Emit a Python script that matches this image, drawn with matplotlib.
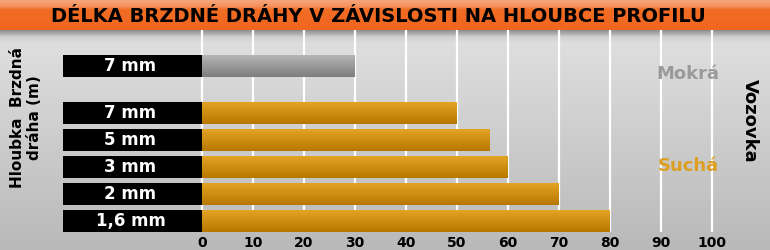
import numpy as np
import matplotlib.pyplot as plt
from matplotlib.colors import LinearSegmentedColormap

# ---------------------------------------------------------------------------
# data
# ---------------------------------------------------------------------------
title = "DÉLKA BRZDNÉ DRÁHY V ZÁVISLOSTI NA HLOUBCE PROFILU"
wet_labels = ["7 mm"]
wet_values = [30]
dry_labels = ["7 mm", "5 mm", "3 mm", "2 mm", "1,6 mm"]
dry_values = [50, 56.5, 60, 70, 80]
x_ticks = [0, 10, 20, 30, 40, 50, 60, 70, 80, 90, 100]

# ---------------------------------------------------------------------------
# layout / style
# ---------------------------------------------------------------------------
W, H = 770, 250
PX = 5.097                       # pixels per unit on the x axis
X0 = 202                         # pixel position of x = 0
BOX = (X0 - 63) / PX             # width of the black label boxes (data units)
BAR_H = 0.80
WET_POS = -1.74

ORANGE_TOP, ORANGE_BOT = "#e3a323", "#b77800"
GREY_TOP, GREY_BOT = "#b5b5b5", "#7e7e7e"
FONT = "DejaVu Sans"


def gradient(ax, patch, top, bottom, z=3):
    x0, y0 = patch.get_x(), patch.get_y()
    w, h = patch.get_width(), patch.get_height()
    cmap = LinearSegmentedColormap.from_list("g", [top, bottom])
    grad = np.linspace(0, 1, 64).reshape(-1, 1)
    ax.imshow(grad, cmap=cmap, aspect="auto", interpolation="bilinear",
              extent=(x0, x0 + w, y0 + h, y0), zorder=z)


fig = plt.figure(figsize=(W / 100, H / 100), dpi=100)

# background + title bar (pixel coordinates)
bg = fig.add_axes([0, 0, 1, 1])
bg.set_xlim(0, W)
bg.set_ylim(H, 0)
bg.axis("off")
bg_cmap = LinearSegmentedColormap.from_list(
    "bg", [(0, "#8f8f8f"), (0.03, "#d0d0d0"), (0.06, "#dedede"), (1, "#b9b9b9")])
bg.imshow(np.linspace(0, 1, 256).reshape(-1, 1), cmap=bg_cmap, aspect="auto",
          extent=(0, W, H, 30), zorder=0)
bar_cmap = LinearSegmentedColormap.from_list(
    "tb", [(0, "#f6a57c"), (0.2, "#f4925c"), (0.32, "#f26c24"), (1, "#f0661f")])
bg.imshow(np.linspace(0, 1, 64).reshape(-1, 1), cmap=bar_cmap, aspect="auto",
          extent=(0, W, 30, 0), zorder=0)
bg.text(378, 16, title, ha="center", va="center", fontsize=14,
        fontweight="heavy", family=FONT, color="black")

# main chart
ax = fig.add_axes([0, (H - 232) / H, 1, (232 - 30) / H])
ax.set_facecolor("none")
for s in ax.spines.values():
    s.set_visible(False)

dry_pos = np.arange(len(dry_values))
wet_pos = np.array([WET_POS])

bars_dry = ax.barh(dry_pos, dry_values, height=BAR_H, color=ORANGE_BOT, zorder=2)
bars_wet = ax.barh(wet_pos, wet_values, height=BAR_H, color=GREY_BOT, zorder=2)
for p in bars_dry:
    gradient(ax, p, ORANGE_TOP, ORANGE_BOT)
for p in bars_wet:
    gradient(ax, p, GREY_TOP, GREY_BOT)

ax.barh(np.concatenate([wet_pos, dry_pos]), BOX, left=-BOX, height=BAR_H,
        color="black", zorder=4)
for y, lab in zip(np.concatenate([wet_pos, dry_pos]), wet_labels + dry_labels):
    ax.text(-BOX / 2 - 0.4, y, lab, ha="center", va="center", color="white",
            fontsize=12, fontweight="bold", family=FONT, zorder=5)

ax.set_xlim(-X0 / PX, (W - X0) / PX)
ax.set_ylim((232 - 113) / 27, (30 - 113) / 27)
ax.set_xticks(x_ticks)
ax.set_xticklabels([str(t) for t in x_ticks], fontsize=10, fontweight="bold",
                   family=FONT)
ax.set_yticks([])
ax.tick_params(axis="x", length=0, pad=3)
ax.grid(axis="x", color="white", lw=1.6, zorder=1)
ax.set_axisbelow(True)

# side annotations
fig.text(688 / W, 1 - 74 / H, "Mokrá", ha="center", va="center", fontsize=13,
         fontweight="bold", family=FONT, color="#9a9a9a")
fig.text(688 / W, 1 - 166 / H, "Suchá", ha="center", va="center", fontsize=13,
         fontweight="bold", family=FONT, color="#dd9f22")
fig.text(750 / W, 1 - 121 / H, "Vozovka", ha="center", va="center",
         fontsize=13, fontweight="bold", family=FONT, rotation=-90)
fig.text(26 / W, 1 - 118 / H, "Hloubka  Brzdná\ndráha (m)", ha="center",
         va="center", multialignment="center", fontsize=11, fontweight="bold",
         family=FONT, rotation=90, linespacing=1.2)

fig.savefig("out.png", dpi=100)
